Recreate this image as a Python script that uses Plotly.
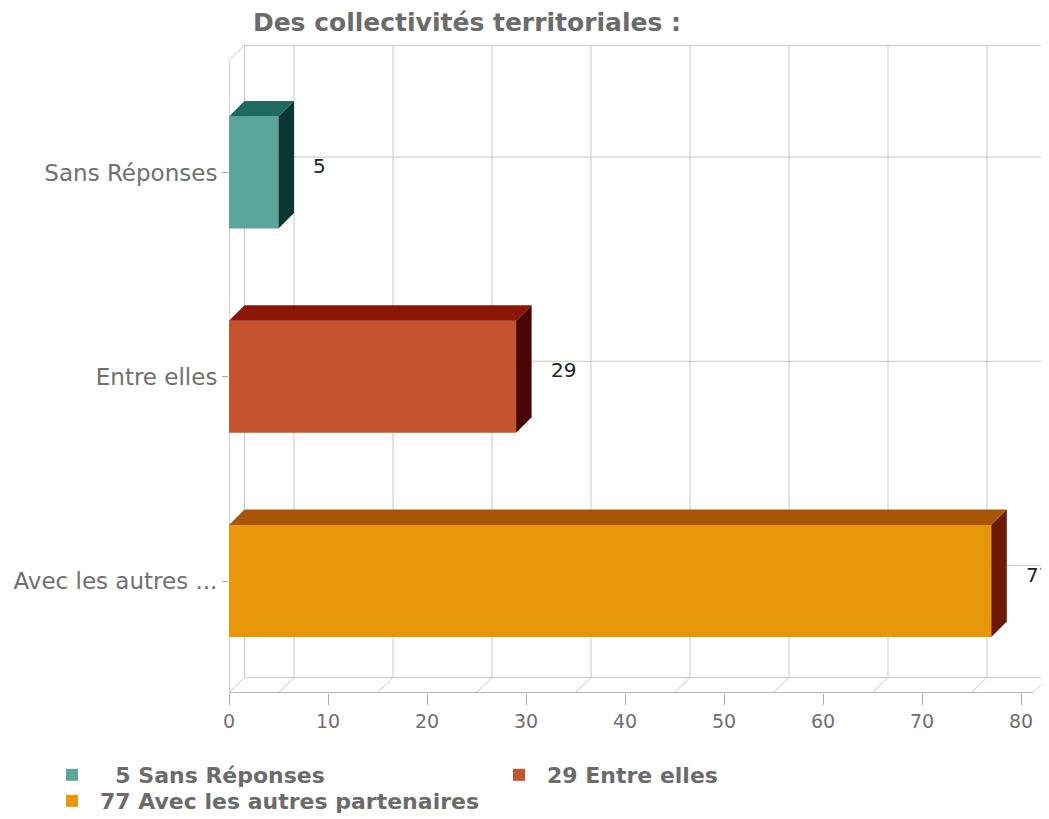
import plotly.graph_objects as go

# données
categories = ["Sans Réponses", "Entre elles", "Avec les autres partenaires"]
tick_labels = ["Sans Réponses", "Entre elles", "Avec les autres ..."]
valeurs = [5, 29, 77]
legend_labels = ["\u00a0\u00a05 Sans Réponses", "29 Entre elles", "77 Avec les autres partenaires"]
legend_ref = ["legend", "legend", "legend2"]
x_ticks = [0, 10, 20, 30, 40, 50, 60, 70, 80]

# couleurs : face avant, dessus, côté
face = ["#5ba59d", "#c5532f", "#e8960a"]
dessus = ["#216a62", "#8c1606", "#a85605"]
cote = ["#0a3531", "#4a0604", "#6c1a05"]

# la page ajoute 8 px de marge autour du graphique
W, H = 1041, 811
L, T, B = 221, 37, 126

# perspective (profondeur en unités de données)
px_x = 9.9
px_y = 204.25
dx = 15.5 / px_x
dy = 15.5 / px_y
largeur = 0.549
y_pos = list(range(len(categories)))
x_max = (W - L) / px_x
y_haut = -127.5 / px_y
y_bas = y_haut + (H - T - B) / px_y
x_fin = 81.2

fig = go.Figure()

for i, (v, nom) in enumerate(zip(valeurs, legend_labels)):
    fig.add_trace(go.Bar(
        x=[v], y=[y_pos[i]], orientation="h", width=largeur,
        marker=dict(color=face[i], line=dict(width=0)),
        name=nom, legend=legend_ref[i], hoverinfo="skip"
    ))
    y0 = y_pos[i] - largeur / 2
    y1 = y_pos[i] + largeur / 2
    # dessus
    fig.add_trace(go.Scatter(
        x=[0, v, v + dx, dx, 0], y=[y0, y0, y0 - dy, y0 - dy, y0],
        fill="toself", fillcolor=dessus[i], mode="lines", line=dict(width=0),
        showlegend=False, hoverinfo="skip"
    ))
    # côté
    fig.add_trace(go.Scatter(
        x=[v, v + dx, v + dx, v, v], y=[y0, y0 - dy, y1 - dy, y1, y0],
        fill="toself", fillcolor=cote[i], mode="lines", line=dict(width=0),
        showlegend=False, hoverinfo="skip"
    ))

# grille en perspective
gris = "#c8c8c8"
shapes = []
def ligne(x0, y0, x1, y1, c=gris):
    shapes.append(dict(type="line", xref="x", yref="y", x0=x0, y0=y0, x1=x1, y1=y1,
                       line=dict(color=c, width=1), layer="below"))

fond_bas = y_bas - dy
grilles = [0] + [g + 5 for g in x_ticks[:-1]] + [x_fin]
for g in grilles:
    ligne(g + dx, y_haut, g + dx, fond_bas)
    ligne(g + dx, fond_bas, g, y_bas - 0.002)
for i in y_pos:
    ligne(dx, i - dy, x_max, i - dy)
ligne(dx, y_haut + 0.002, x_max, y_haut + 0.002)
ligne(dx, fond_bas, x_fin + dx, fond_bas)
ligne(0, y_bas - 0.002, x_fin, y_bas - 0.002, "#b0b0b0")
ligne(0, y_haut + dy, 0, y_bas, "#b0b0b0")
ligne(0, y_haut + dy, dx, y_haut)

annotations = []
for i, v in enumerate(valeurs):
    annotations.append(dict(
        x=v + dx, y=y_pos[i] - dy, xref="x", yref="y", text=str(v),
        showarrow=False, xanchor="left", yanchor="middle", xshift=17, yshift=-9,
        font=dict(family="DejaVu Sans", size=20, color="#222222")
    ))

legende = dict(orientation="h", xref="paper", yref="paper",
               x=(36 - L) / (W - L), xanchor="left", yanchor="top",
               itemwidth=46, entrywidth=386, entrywidthmode="pixels", traceorder="normal",
               font=dict(family="DejaVu Sans", size=22, color="#6b6b6b", weight="bold"),
               tracegroupgap=0, bgcolor="rgba(0,0,0,0)")

fig.update_layout(
    width=W, height=H,
    margin=dict(l=L, r=0, t=T, b=B, autoexpand=False),
    paper_bgcolor="white", plot_bgcolor="white",
    barmode="overlay",
    title=dict(text="<b>Des collectivités territoriales :</b>", x=459 / W, xanchor="center",
               y=1 - 14 / H, yanchor="middle", xref="container", yref="container",
               font=dict(family="DejaVu Sans", size=25, color="#6b6b6b")),
    xaxis=dict(range=[0, x_max], tickvals=x_ticks, showgrid=False, zeroline=False,
               showline=False, ticks="outside", ticklen=11, tickcolor="#aaaaaa",
               tickfont=dict(family="DejaVu Sans", size=19, color="#707070")),
    yaxis=dict(range=[y_bas, y_haut], tickvals=y_pos, ticktext=tick_labels,
               showgrid=False, zeroline=False, showline=False,
               ticks="outside", ticklen=6, tickcolor="#aaaaaa",
               tickfont=dict(family="DejaVu Sans", size=23, color="#707070")),
    legend=dict(legende, y=-(746 - (H - B)) / (H - T - B)),
    legend2=dict(legende, y=-(772 - (H - B)) / (H - T - B)),
    shapes=shapes,
    annotations=annotations,
    showlegend=True,
)

fig.write_html("out.html")
